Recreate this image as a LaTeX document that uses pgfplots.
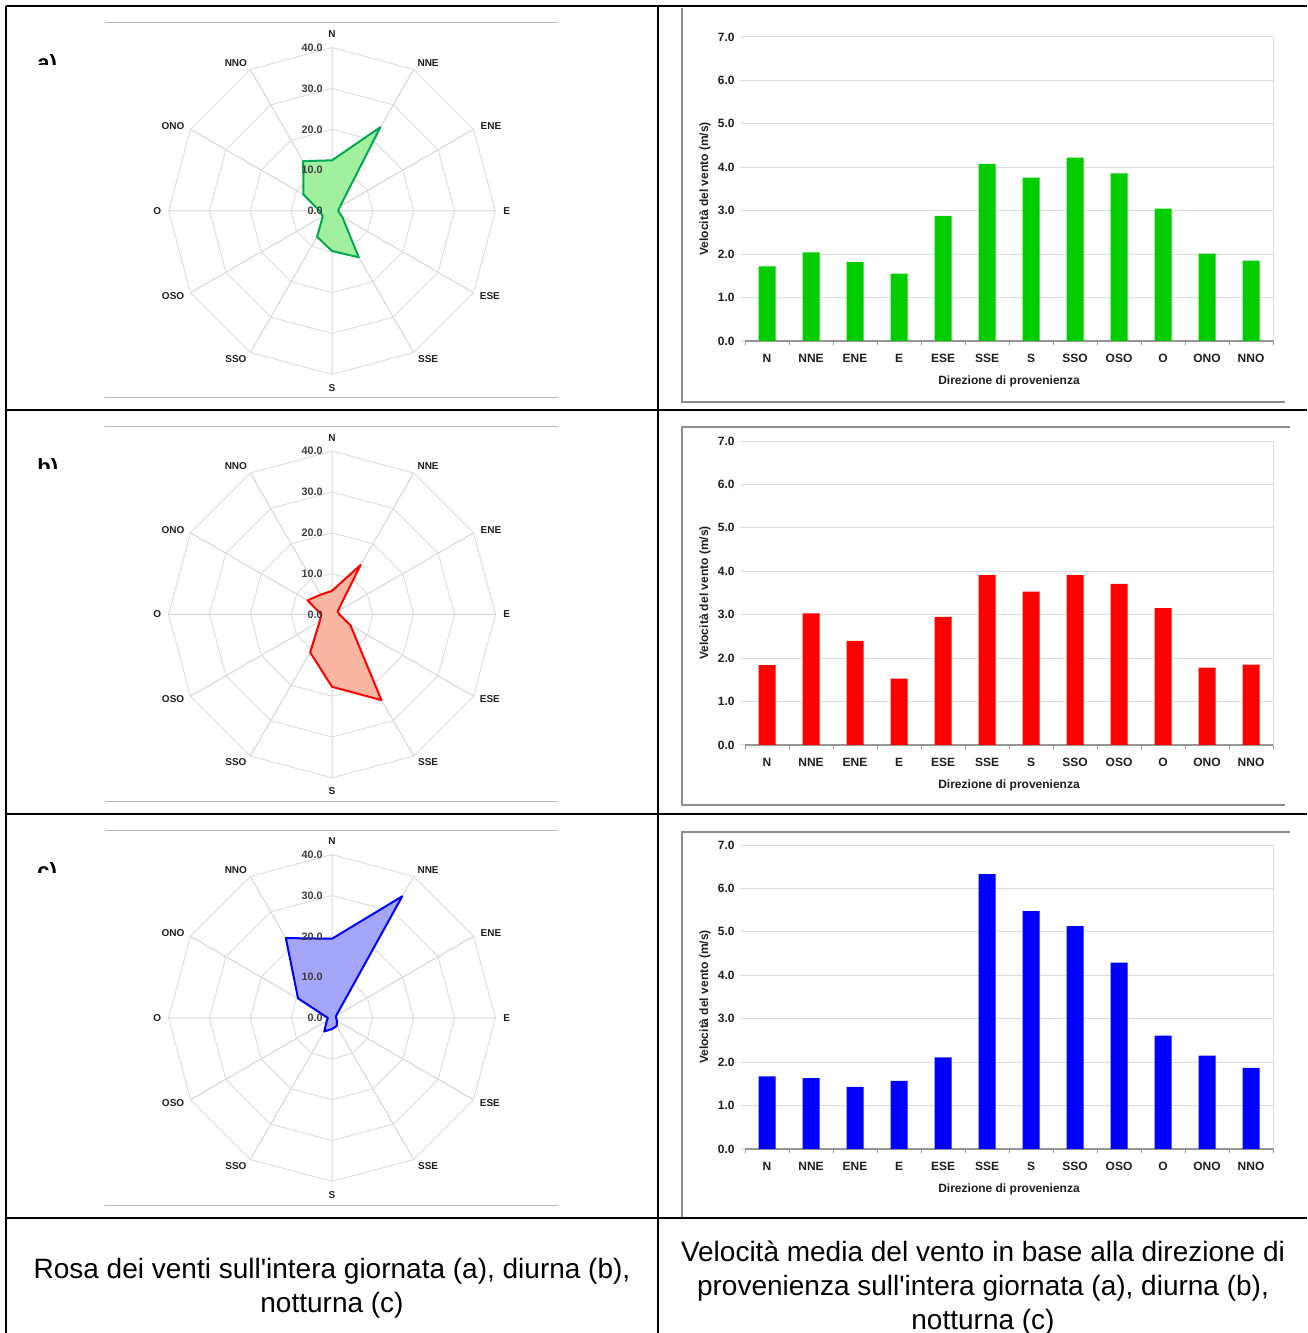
\documentclass[border=0pt]{standalone}
\usepackage{fontspec}
\setmainfont{Liberation Sans}
\usepackage{pgfplots}
\pgfplotsset{compat=1.18}
\usepgfplotslibrary{polar}

\definecolor{gBar}{RGB}{0,204,0}
\definecolor{rBar}{RGB}{255,0,0}
\definecolor{bBar}{RGB}{0,0,255}
\definecolor{gLine}{RGB}{0,168,80}
\definecolor{gFill}{RGB}{160,240,160}
\definecolor{rLine}{RGB}{255,0,0}
\definecolor{rFill}{RGB}{250,182,162}
\definecolor{bLine}{RGB}{0,0,255}
\definecolor{bFill}{RGB}{165,165,250}
\definecolor{ringgray}{RGB}{222,222,222}
\definecolor{spokegray}{RGB}{212,212,212}
\definecolor{framegray}{RGB}{185,185,185}
\definecolor{barframe}{RGB}{140,140,140}
\definecolor{gridgray}{RGB}{220,220,220}
\definecolor{axisgray}{RGB}{150,150,150}
\definecolor{txt}{RGB}{30,30,30}
\definecolor{ringtxt}{RGB}{60,60,60}

\newcommand\radfont{\fontsize{5}{6}\selectfont\bfseries}
\newcommand\ringfont{\fontsize{5.4}{6}\selectfont\bfseries}
\newcommand\barfont{\fontsize{6}{7}\selectfont\bfseries}
\newcommand\capfont{\fontsize{14pt}{17pt}\selectfont}

\pgfplotsset{
  radar/.style={
    scale only axis, width=163.4pt, height=163.4pt,
    anchor=center,
    xmin=0, xmax=360, ymin=0, ymax=40,
    xtick={0,30,...,330}, xticklabels={},
    ytick={10,20,30,40}, yticklabels={},
    xmajorgrids=true, ymajorgrids=false,
    major x grid style={spokegray, line width=0.5pt},
    axis line style={draw=none},
    tick style={draw=none},
    clip=false,
  },
  barax/.style={
    scale only axis, width=264pt, height=152pt, anchor=south west,
    xmin=-0.5, xmax=11.5, ymin=0, ymax=7,
    axis x line*=bottom, axis y line*=left,
    x axis line style={-, draw=axisgray, line width=0.8pt},
    y axis line style={draw=none},
    xtick={0,...,11},
    xticklabels={N,NNE,ENE,E,ESE,SSE,S,SSO,OSO,O,ONO,NNO},
    major x tick style={draw=none},
    minor xtick={-0.5,0.5,...,11.5},
    minor x tick style={draw=axisgray, line width=0.5pt},
    ytick={0,...,7}, yticklabels={0.0,1.0,2.0,3.0,4.0,5.0,6.0,7.0},
    major y tick style={draw=gridgray, line width=0.5pt},
    tick align=outside, major tick length=2.5pt, minor tick length=2pt,
    ymajorgrids, major grid style={gridgray, line width=0.5pt},
    tick label style={font=\barfont, text=txt},
    xticklabel style={yshift=-0.5pt},
    yticklabel style={xshift=0.8pt},
    xlabel={Direzione di provenienza},
    ylabel={Velocità del vento (m/s)},
    label style={font=\barfont, text=txt},
    xlabel style={at={(axis description cs:0.5,-0.1316)}, anchor=center},
    ylabel style={at={(axis description cs:-0.0758,0.5)}, anchor=center},
    ybar, bar width=8.5pt,
    clip=false,
  },
}

\newcommand\radargrid{%
  \pgfplotsinvokeforeach{10,20,30,40}{%
    \addplot[ringgray, line width=0.5pt, forget plot] coordinates {(0,##1)(30,##1)(60,##1)(90,##1)(120,##1)(150,##1)(180,##1)(210,##1)(240,##1)(270,##1)(300,##1)(330,##1)(360,##1)};
  }%
}
\newcommand\radarlabels{%
  \node[font=\radfont, text=txt] at (axis cs:90,43.3) {N};
  \node[font=\radfont, text=txt] at (axis cs:57,43.2) {NNE};
  \node[font=\radfont, text=txt] at (axis cs:28.1,44.1) {ENE};
  \node[font=\radfont, text=txt] at (axis cs:0,42.8) {E};
  \node[font=\radfont, text=txt] at (axis cs:-28.3,43.9) {ESE};
  \node[font=\radfont, text=txt] at (axis cs:-57,43.2) {SSE};
  \node[font=\radfont, text=txt] at (axis cs:-90,43.3) {S};
  \node[font=\radfont, text=txt] at (axis cs:-123,43.2) {SSO};
  \node[font=\radfont, text=txt] at (axis cs:-151.9,44.1) {OSO};
  \node[font=\radfont, text=txt] at (axis cs:180,42.8) {O};
  \node[font=\radfont, text=txt] at (axis cs:151.9,44.1) {ONO};
  \node[font=\radfont, text=txt] at (axis cs:123,43.2) {NNO};
  \node[font=\ringfont, text=ringtxt, anchor=east, inner sep=0pt, xshift=-4.5pt] at (axis cs:90,0) {0.0};
  \node[font=\ringfont, text=ringtxt, anchor=east, inner sep=0pt, xshift=-4.5pt] at (axis cs:90,10) {10.0};
  \node[font=\ringfont, text=ringtxt, anchor=east, inner sep=0pt, xshift=-4.5pt] at (axis cs:90,20) {20.0};
  \node[font=\ringfont, text=ringtxt, anchor=east, inner sep=0pt, xshift=-4.5pt] at (axis cs:90,30) {30.0};
  \node[font=\ringfont, text=ringtxt, anchor=east, inner sep=0pt, xshift=-4.5pt] at (axis cs:90,40) {40.0};
}

\begin{document}
\begin{tikzpicture}
\path[use as bounding box] (0,0) rectangle (653.5pt,666.5pt);

\begin{scope}[x=0.5pt,y=-0.5pt,yshift=666.5pt]
  % radar chart frames
  \draw[framegray, line width=0.5pt] (105,23) -- (558,23);
  \draw[framegray, line width=0.5pt] (105,398) -- (558,398);
  \draw[framegray, line width=0.5pt] (105,427) -- (558,427);
  \draw[framegray, line width=0.5pt] (105,802) -- (558,802);
  \draw[framegray, line width=0.5pt] (105,831) -- (558,831);
  \draw[framegray, line width=0.5pt] (105,1206) -- (558,1206);
  % bar chart frames
  \draw[barframe, line width=0.9pt] (682,8) -- (682,402) -- (1285,402);
  \draw[barframe, line width=0.9pt] (1290,427) -- (682,427) -- (682,805) -- (1285,805);
  \draw[barframe, line width=0.9pt] (1290,832) -- (682,832) -- (682,1217);
  % panel letters (cut off as in the original)
  \begin{scope}\clip (30,40) rectangle (80,64.5);
    \node[anchor=base west, inner sep=0pt, font=\fontsize{11}{12}\selectfont\bfseries] at (37,71) {a)};
  \end{scope}
  \begin{scope}\clip (30,444) rectangle (80,468.5);
    \node[anchor=base west, inner sep=0pt, font=\fontsize{11}{12}\selectfont\bfseries] at (37,475) {b)};
  \end{scope}
  \begin{scope}\clip (30,848) rectangle (80,872.5);
    \node[anchor=base west, inner sep=0pt, font=\fontsize{11}{12}\selectfont\bfseries] at (37,879) {c)};
  \end{scope}
  % captions
  \node[font=\capfont, align=center] at (332,1288) {Rosa dei venti sull\textquotesingle intera giornata (a), diurna (b),\\notturna (c)};
  \node[font=\capfont, align=center] at (983,1288) {Velocità media del vento in base alla direzione di\\provenienza sull\textquotesingle intera giornata (a), diurna (b),\\notturna (c)};
\end{scope}

% ---------- radar a ----------
\begin{polaraxis}[radar, at={(166pt,561pt)}]
  \radargrid
  \addplot[draw=gLine, fill=gFill, line width=1pt, line join=round] coordinates {
    (90,12.4)(60,23.7)(30,2.3)(0,1.5)(-30,2.9)(-60,13.1)(-90,9.8)(-120,7.3)(-150,2.6)(-180,3.0)(-210,8.1)(-240,14.1)} -- cycle;
  \radarlabels
\end{polaraxis}
% ---------- radar b ----------
\begin{polaraxis}[radar, at={(166pt,359.25pt)}]
  \radargrid
  \addplot[draw=rLine, fill=rFill, line width=1pt, line join=round] coordinates {
    (90,5.8)(60,14.0)(30,1.6)(0,1.8)(-30,5.2)(-60,24.2)(-90,17.7)(-120,10.7)(-150,3.5)(-180,2.6)(-210,6.9)(-240,5.6)} -- cycle;
  \radarlabels
\end{polaraxis}
% ---------- radar c ----------
\begin{polaraxis}[radar, at={(166pt,157.5pt)}]
  \radargrid
  \addplot[draw=bLine, fill=bFill, line width=1pt, line join=round] coordinates {
    (90,19.4)(60,34.4)(30,1.2)(0,1.0)(-30,1.4)(-60,2.3)(-90,2.7)(-120,3.8)(-150,1.5)(-180,1.0)(-210,9.6)(-240,22.6)} -- cycle;
  \radarlabels
\end{polaraxis}

% ---------- bars a ----------
\begin{axis}[barax, at={(372.5pt,496pt)}]
  \draw[gridgray, line width=0.5pt] (axis cs:11.5,0) -- (axis cs:11.5,7);
  \addplot[fill=gBar, draw=none] coordinates {(0,1.72)(1,2.04)(2,1.82)(3,1.55)(4,2.88)(5,4.08)(6,3.76)(7,4.22)(8,3.86)(9,3.05)(10,2.01)(11,1.85)};
\end{axis}
% ---------- bars b ----------
\begin{axis}[barax, at={(372.5pt,294pt)}]
  \draw[gridgray, line width=0.5pt] (axis cs:11.5,0) -- (axis cs:11.5,7);
  \addplot[fill=rBar, draw=none] coordinates {(0,1.84)(1,3.03)(2,2.40)(3,1.53)(4,2.95)(5,3.91)(6,3.53)(7,3.91)(8,3.71)(9,3.15)(10,1.78)(11,1.85)};
\end{axis}
% ---------- bars c ----------
\begin{axis}[barax, at={(372.5pt,92pt)}]
  \draw[gridgray, line width=0.5pt] (axis cs:11.5,0) -- (axis cs:11.5,7);
  \addplot[fill=bBar, draw=none] coordinates {(0,1.67)(1,1.63)(2,1.43)(3,1.57)(4,2.11)(5,6.33)(6,5.48)(7,5.13)(8,4.29)(9,2.61)(10,2.15)(11,1.87)};
\end{axis}

% table rules on top
\begin{scope}[x=0.5pt,y=-0.5pt,yshift=666.5pt]
  \draw[black, line width=1.2pt] (6,6) -- (1307,6);
  \draw[black, line width=1.2pt] (6,410) -- (1307,410);
  \draw[black, line width=1.2pt] (6,814) -- (1307,814);
  \draw[black, line width=1.2pt] (6,1218) -- (1307,1218);
  \draw[black, line width=1.2pt] (6,6) -- (6,1333);
  \draw[black, line width=1.2pt] (658,6) -- (658,1333);
\end{scope}
\end{tikzpicture}
\end{document}
